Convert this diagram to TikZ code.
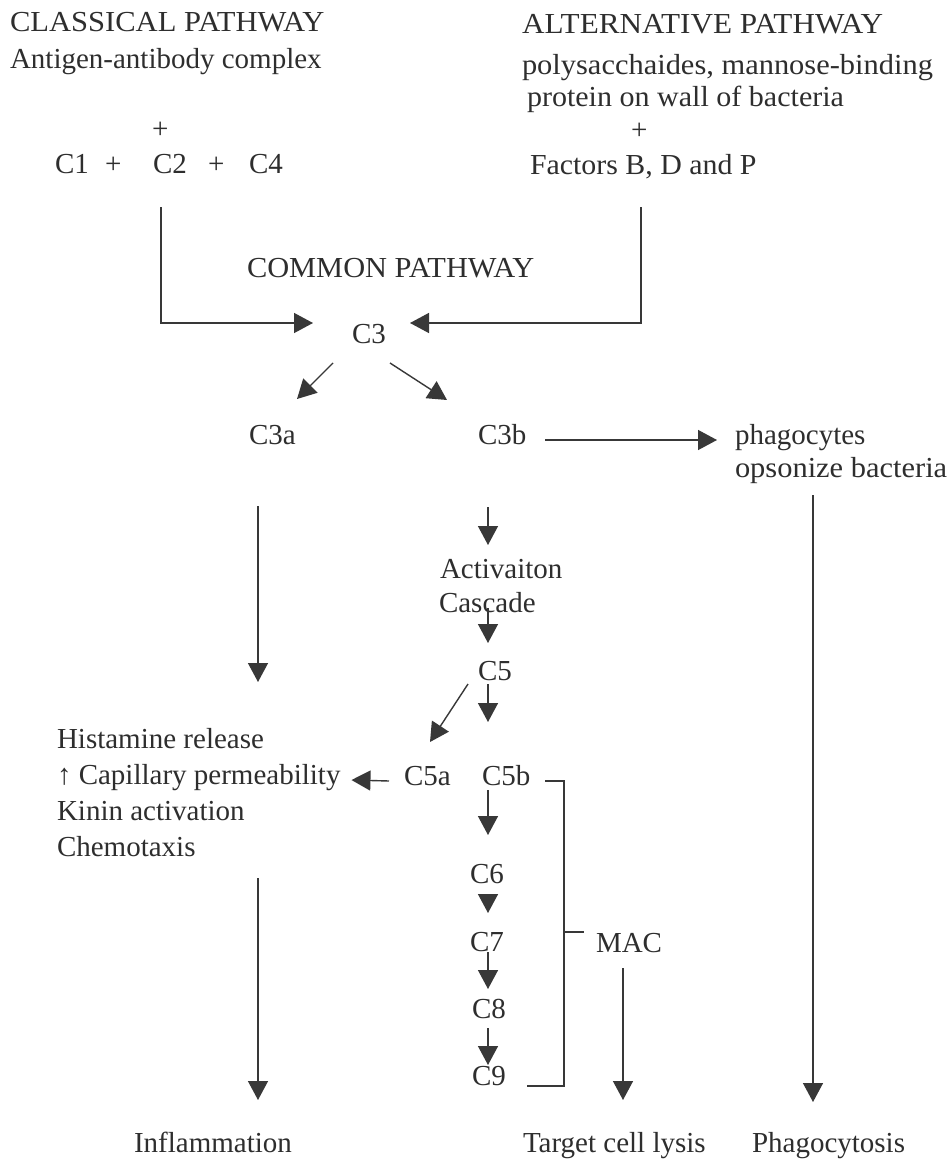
\documentclass[tikz,border=0pt]{standalone}
\usepackage{fontspec}
\setmainfont{Liberation Serif}
\usetikzlibrary{arrows.meta,calc}
\definecolor{ink}{HTML}{2E2E2E}
\definecolor{lineink}{HTML}{383838}
\newcommand{\wide}[2]{\scalebox{#1}[1]{#2}}
\begin{document}
\begin{tikzpicture}[x=1pt,y=-1pt,
  txt/.style={anchor=base west,inner sep=0pt,outer sep=0pt,text=ink,font=\fontsize{29}{34}\selectfont},
  ln/.style={draw=lineink,line width=1.4pt},
  arr/.style={ln,-{Triangle[length=19pt,width=20pt]}}]
\useasboundingbox[fill=white] (0,0) rectangle (952,1161);

% classical pathway
\node[txt] (clt) at (10,32) {\wide{1.054}{CLASSICAL PATHWAY}};
\node[txt] (cls) at (10,69) {Antigen-antibody complex};
\node[txt] (plusA) at (152,139) {+};
\node[txt] (c1) at (55,174) {C1};
\node[txt] (plusB) at (105,174) {+};
\node[txt] (c2) at (153,174) {C2};
\node[txt] (plusC) at (208,174) {+};
\node[txt] (c4) at (249,174) {C4};

% alternative pathway
\node[txt] (alt) at (522,34) {\wide{1.075}{ALTERNATIVE PATHWAY}};
\node[txt] (altA) at (522,75) {\wide{1.05}{polysacchaides, mannose-binding}};
\node[txt] (altB) at (527,107) {\wide{1.036}{protein on wall of bacteria}};
\node[txt] (plusD) at (631,140) {+};
\node[txt] (fac) at (530,175) {\wide{1.03}{Factors B, D and P}};

% common pathway
\node[txt] (common) at (247,277) {\wide{1.048}{COMMON PATHWAY}};
\node[txt] (c3) at (352,343) {C3};
\node[txt] (c3a) at (249,444) {C3a};
\node[txt] (c3b) at (478,444) {C3b};
\node[txt] (phagA) at (735,444) {phagocytes};
\node[txt] (phagB) at (735,477) {\wide{1.05}{opsonize bacteria}};
\node[txt] (act) at (440,578) {Activaiton};
\node[txt] (cas) at (439,612) {Cascade};
\node[txt] (c5) at (478,680) {C5};
\node[txt] (hist) at (57,748) {Histamine release};
\node[txt] (cap) at (57,784) {↑ Capillary permeability};
\node[txt] (kin) at (57,820) {Kinin activation};
\node[txt] (chem) at (57,856) {Chemotaxis};
\node[txt] (c5a) at (404,785) {C5a};
\node[txt] (c5b) at (482,785) {C5b};
\node[txt] (c6) at (470,883) {C6};
\node[txt] (c7) at (470,951) {C7};
\node[txt] (c8) at (472,1018) {C8};
\node[txt] (c9) at (472,1085) {C9};
\node[txt] (mac) at (596,952) {MAC};
\node[txt] (infl) at (134,1152) {Inflammation};
\node[txt] (lysis) at (523,1152) {Target cell lysis};
\node[txt] (phago) at (752,1152) {Phagocytosis};

% connectors
\draw[arr] ($(c2.base west)+(8,33)$) |- ($(c3.base west)+(-39,-20)$);
\draw[arr] ($(fac.base west)+(111,32)$) |- ($(c3.base west)+(58,-20)$);
\draw[arr] ($(c3.base west)+(-19,20)$) -- ($(c3a.base west)+(48,-45)$);
\draw[arr] ($(c3.base west)+(38,20)$) -- ($(c3b.base west)+(-31,-44)$);
\draw[arr] ($(c3b.base west)+(67,-4)$) -- ($(phagA.base west)+(-18,-4)$);
\draw[arr] ($(c3a.base west)+(9,62)$) -- ($(hist.base west)+(201,-66)$);
\draw[arr] ($(c3b.base west)+(10,63)$) -- ($(act.base west)+(48,-33)$);
\draw[arr] ($(cas.base west)+(49,-4)$) -- ($(c5.base west)+(10,-37)$);
\draw[arr] ($(c5.base west)+(10,4)$) -- ($(c5b.base west)+(6,-63)$);
\draw[arr] ($(c5.base west)+(-10,4)$) -- ($(c5a.base west)+(26,-43)$);
\draw[arr] ($(c5a.base west)+(-15,-4)$) -- ($(cap.base east)+(11,-4)$);
\draw[arr] ($(c5b.base west)+(6,5)$) -- ($(c6.base west)+(18,-48)$);
\draw[arr] ($(c6.base west)+(18,11)$) -- ($(c7.base west)+(18,-38)$);
\draw[arr] ($(c7.base west)+(18,1)$) -- ($(c8.base west)+(16,-29)$);
\draw[arr] ($(c8.base west)+(16,10)$) -- ($(c9.base west)+(16,-20)$);
\draw[ln] ($(c5b.base west)+(63,-4)$) -- ++(19,0) |- ($(c9.base west)+(55,1)$);
\draw[ln] ($(mac.base west)+(-32,-20)$) -- ++(20,0);
\draw[arr] ($(mac.base west)+(27,16)$) -- ($(lysis.base west)+(100,-52)$);
\draw[arr] ($(phagB.base west)+(78,18)$) -- ($(phago.base west)+(61,-50)$);
\draw[arr] ($(chem.base west)+(201,22)$) -- ($(infl.base west)+(124,-52)$);
\end{tikzpicture}
\end{document}
